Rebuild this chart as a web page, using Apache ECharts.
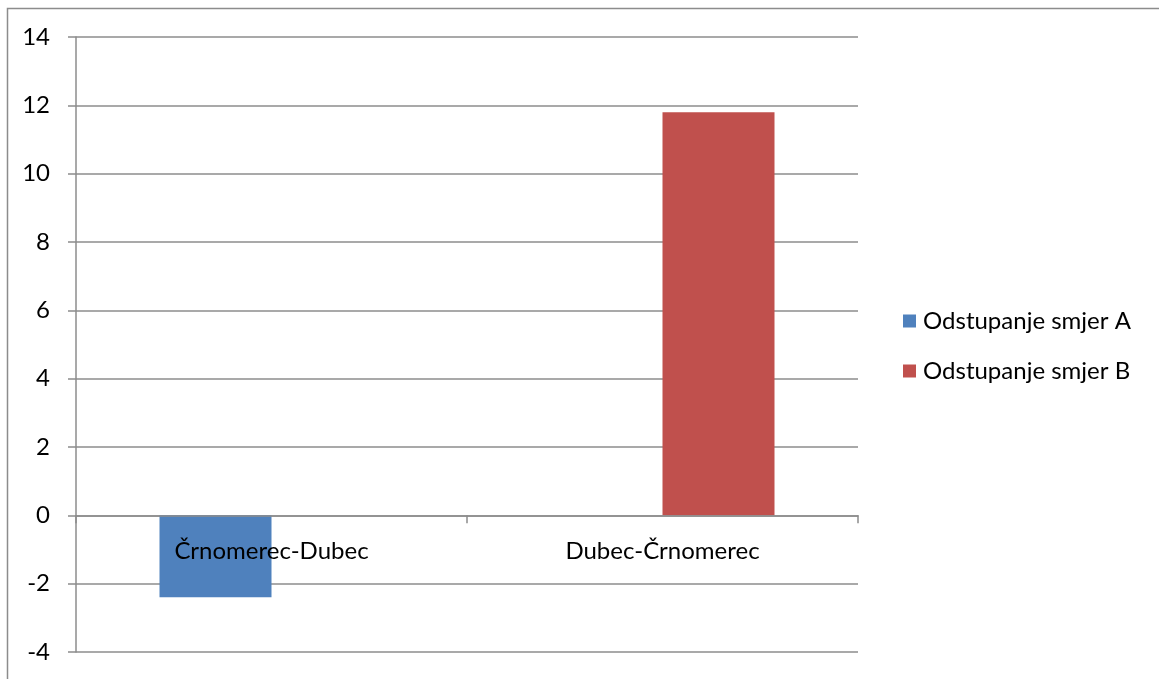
<!DOCTYPE html>
<html>
<head>
<meta charset="utf-8">
<script src="https://cdn.jsdelivr.net/npm/echarts@6/dist/echarts.min.js"></script>
<style>
html,body{margin:0;padding:0;background:#fff;}
#c{width:1159px;height:679px;}
</style>
</head>
<body>
<div id="c"></div>
<script>
const categories = ['Črnomerec-Dubec', 'Dubec-Črnomerec'];
const seriesNames = ['Odstupanje smjer A', 'Odstupanje smjer B'];
const valuesA = [-2.4, '-'];
const valuesB = ['-', 11.8];
const yTicks = { min: -4, max: 14, interval: 2 };

const FONT = 'Lato, "Open Sans", sans-serif';
const GRAY = '#8c8c8c';
const FS = 24;
const chart = echarts.init(document.getElementById('c'), null, { renderer: 'canvas' });
const option = {
  animation: false,
  backgroundColor: '#fff',
  textStyle: { fontFamily: FONT },
  graphic: [{
    type: 'rect', silent: true,
    shape: { x: 7.5, y: 8.5, width: 1300, height: 800 },
    style: { fill: 'none', stroke: GRAY, lineWidth: 1.5 }
  }],
  grid: { left: 76, top: 37, right: 301, bottom: 27, containLabel: false, outerBoundsMode: 'none' },
  legend: {
    orient: 'vertical',
    left: 903, top: 309,
    padding: 0,
    itemWidth: 13, itemHeight: 13, itemGap: 26,
    icon: 'rect',
    textStyle: { fontFamily: FONT, fontSize: FS, color: '#000', padding: [0, 0, 0, 2] },
    data: seriesNames
  },
  xAxis: {
    type: 'category',
    data: categories,
    offset: 0,
    z: 10,
    axisLine: { onZero: false, lineStyle: { color: GRAY, width: 1.5 } },
    axisTick: { show: true, length: 8, alignWithLabel: false, lineStyle: { color: GRAY, width: 1.5 } },
    axisLabel: { fontFamily: FONT, fontSize: FS, color: '#000', margin: 24 },
    splitLine: { show: false }
  },
  yAxis: {
    type: 'value',
    min: yTicks.min, max: yTicks.max, interval: yTicks.interval,
    axisLine: { show: true, lineStyle: { color: GRAY, width: 1.5 } },
    axisTick: { show: true, length: 8, lineStyle: { color: GRAY, width: 1.5 } },
    axisLabel: { fontFamily: FONT, fontSize: FS, color: '#000', margin: 26 },
    splitLine: { show: true, lineStyle: { color: GRAY, width: 1.5 } }
  },
  series: [
    { name: seriesNames[0], type: 'bar', z: 2, data: valuesA, barWidth: 112, barGap: '0%', itemStyle: { color: '#4F81BD' } },
    { name: seriesNames[1], type: 'bar', z: 2, data: valuesB, barWidth: 112, barGap: '0%', itemStyle: { color: '#C0504D' } }
  ]
};
chart.setOption(option);
// move the category axis (line, ticks, labels) up to the value 0
const zeroY = chart.convertToPixel({ yAxisIndex: 0 }, 0);
const bottomY = chart.convertToPixel({ yAxisIndex: 0 }, yTicks.min);
chart.setOption({ xAxis: { offset: -(bottomY - zeroY) } });
</script>
</body>
</html>
